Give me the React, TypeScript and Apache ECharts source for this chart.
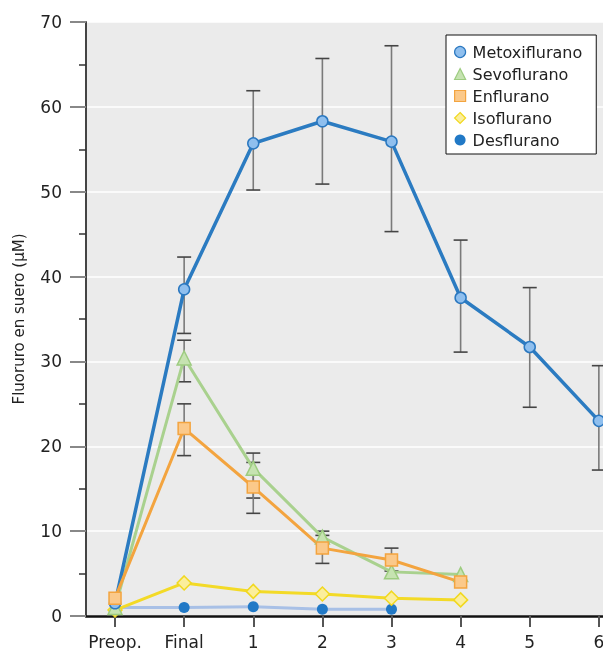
import React, { useEffect, useRef } from "react";
import * as echarts from "echarts";

const categories = ["Preop.", "Final", "1", "2", "3", "4", "5", "6"];
const yTicks = [0, 10, 20, 30, 40, 50, 60, 70];

const metoxi = [1.5, 38.5, 55.7, 58.3, 55.9, 37.5, 31.7, 23.0];
const metoxiLow = [null, 33.3, 50.2, 50.9, 45.3, 31.1, 24.6, 17.2];
const metoxiHigh = [null, 42.3, 61.9, 65.7, 67.2, 44.3, 38.7, 29.5];

const sevo = [1.0, 30.4, 17.4, 9.3, 5.2, 4.9];
const sevoLow = [null, 27.6, 13.9, 8.6, null, null];
const sevoHigh = [null, 32.5, 19.2, 10.0, null, null];

const enflu = [2.1, 22.1, 15.2, 8.0, 6.6, 4.0];
const enfluLow = [null, 18.9, 12.1, 6.2, 5.3, null];
const enfluHigh = [null, 25.0, 18.1, 9.5, 8.0, null];

const iso = [0.7, 3.9, 2.9, 2.6, 2.1, 1.9];
const desflu = [1.0, 1.0, 1.1, 0.8, 0.8];

const FONT = "DejaVu Sans";

function pts(vals: number[]) {
  return vals.map((v, i) => [i, v]);
}
function errs(lo: (number | null)[], hi: (number | null)[]) {
  const out: number[][] = [];
  lo.forEach((l, i) => {
    const h = hi[i];
    if (l != null && h != null) out.push([i, l, h]);
  });
  return out;
}

const renderErr = (params: any, api: any) => {
  const x = api.value(0);
  const lo = api.value(1);
  const hi = api.value(2);
  const top = api.coord([x, hi]);
  const bot = api.coord([x, lo]);
  const w = 7;
  return {
    type: "group",
    children: [
      { type: "line", shape: { x1: top[0], y1: top[1], x2: bot[0], y2: bot[1] }, style: { stroke: "#7a7a7a", lineWidth: 1.6 } },
      { type: "line", shape: { x1: top[0] - w, y1: top[1], x2: top[0] + w, y2: top[1] }, style: { stroke: "#444", lineWidth: 1.6 } },
      { type: "line", shape: { x1: bot[0] - w, y1: bot[1], x2: bot[0] + w, y2: bot[1] }, style: { stroke: "#444", lineWidth: 1.6 } },
    ],
  };
};

export default function App() {
  const ref = useRef<HTMLDivElement>(null);
  useEffect(() => {
    if (!ref.current) return;
    const chart = echarts.init(ref.current, null, { renderer: "svg" });
    const errSeries = (data: number[][]) => ({
      type: "custom",
      renderItem: renderErr,
      data,
      encode: { x: 0, y: [1, 2] },
      silent: true,
      z: 2,
    });
    chart.setOption({
      animation: false,
      grid: {
        left: 86,
        right: 0,
        top: 22,
        bottom: 35,
        outerBoundsMode: "none",
        containLabel: false,
        show: true,
        backgroundColor: "#ebebeb",
        borderWidth: 0,
      },
      legend: {
        orient: "vertical",
        left: 446,
        top: 35,
        padding: [9, 14, 6, 8],
        backgroundColor: "#ffffff",
        borderColor: "#111",
        borderWidth: 1,
        borderRadius: 0,
        itemWidth: 11,
        itemHeight: 11,
        itemGap: 6,
        textStyle: { fontFamily: FONT, fontSize: 16, color: "#222", lineHeight: 14, padding: [0, 0, 0, 2] },
        data: [
          { name: "Metoxiflurano", icon: "circle", itemStyle: { color: "#8fbfee", borderColor: "#2b78c0", borderWidth: 1.2 } },
          { name: "Sevoflurano", icon: "triangle", itemStyle: { color: "#c6e3b1", borderColor: "#9dcc80", borderWidth: 1.2 } },
          { name: "Enflurano", icon: "rect", itemStyle: { color: "#fbc98a", borderColor: "#f3a43f", borderWidth: 1.2 } },
          { name: "Isoflurano", icon: "diamond", itemStyle: { color: "#fbee9c", borderColor: "#f1d81f", borderWidth: 1.2 } },
          { name: "Desflurano", icon: "circle", itemStyle: { color: "#2179c6", borderWidth: 0 } },
        ],
      },
      xAxis: {
        type: "value",
        min: -0.42,
        max: 7.06,
        axisLine: { show: true, onZero: false, lineStyle: { color: "#111", width: 2.5 } },
        axisTick: { show: true, length: 11, customValues: categories.map((_, i) => i), lineStyle: { color: "#555", width: 2 } },
        axisLabel: {
          customValues: categories.map((_, i) => i),
          formatter: (v: number) => categories[Math.round(v)] ?? "",
          fontFamily: FONT,
          fontSize: 17,
          color: "#222",
          margin: 17,
          hideOverlap: false,
        },
        splitLine: { show: false },
      },
      yAxis: {
        type: "value",
        min: 0,
        max: 70,
        interval: 10,
        name: "Fluoruro en suero (μM)",
        nameLocation: "middle",
        nameGap: 60,
        nameTextStyle: { fontFamily: FONT, fontSize: 15, color: "#222" },
        axisLine: { show: true, onZero: false, lineStyle: { color: "#444", width: 2 } },
        axisTick: { show: true, length: 16, lineStyle: { color: "#888", width: 2 } },
        minorTick: { show: true, splitNumber: 2, length: 7, lineStyle: { color: "#333", width: 1.5 } },
        axisLabel: {
          formatter: (v: number) => (yTicks.includes(v) ? String(v) : ""),
          fontFamily: FONT,
          fontSize: 17,
          color: "#222",
          margin: 24,
        },
        splitLine: { show: true, lineStyle: { color: "#ffffff", width: 1.5 } },
      },
      series: [
        errSeries(errs(metoxiLow, metoxiHigh)),
        errSeries(errs(sevoLow, sevoHigh)),
        errSeries(errs(enfluLow, enfluHigh)),
        {
          name: "Desflurano",
          type: "line",
          z: 3,
          data: pts(desflu).map((p, i) => (i === 0 ? { value: p, symbolSize: 0 } : { value: p })),
          symbol: "circle",
          symbolSize: 11,
          lineStyle: { color: "#a8c0e6", width: 3 },
          itemStyle: { color: "#2179c6", borderWidth: 0 },
        },
        {
          name: "Isoflurano",
          type: "line",
          z: 3,
          data: pts(iso),
          symbol: "diamond",
          symbolSize: 14,
          lineStyle: { color: "#f3da27", width: 3 },
          itemStyle: { color: "#fbee9c", borderColor: "#f1d81f", borderWidth: 1.5 },
        },
        {
          name: "Sevoflurano",
          type: "line",
          z: 3,
          data: pts(sevo),
          symbol: "triangle",
          symbolSize: 14,
          lineStyle: { color: "#a9d18e", width: 3 },
          itemStyle: { color: "#c6e3b1", borderColor: "#9dcc80", borderWidth: 1.5 },
        },
        {
          name: "Metoxiflurano",
          type: "line",
          z: 3,
          data: pts(metoxi),
          symbol: "circle",
          symbolSize: 11,
          lineStyle: { color: "#2b7bc1", width: 3.5 },
          itemStyle: { color: "#8fbfee", borderColor: "#2b78c0", borderWidth: 1.5 },
        },
        {
          name: "Enflurano",
          type: "line",
          z: 3,
          data: pts(enflu),
          symbol: "rect",
          symbolSize: 12,
          lineStyle: { color: "#f3a43f", width: 3 },
          itemStyle: { color: "#fbc98a", borderColor: "#f3a43f", borderWidth: 1.5 },
        },
      ],
    });
    return () => chart.dispose();
  }, []);
  return <div ref={ref} style={{ position: "fixed", left: 0, top: 0, width: 603, height: 651 }} />;
}
